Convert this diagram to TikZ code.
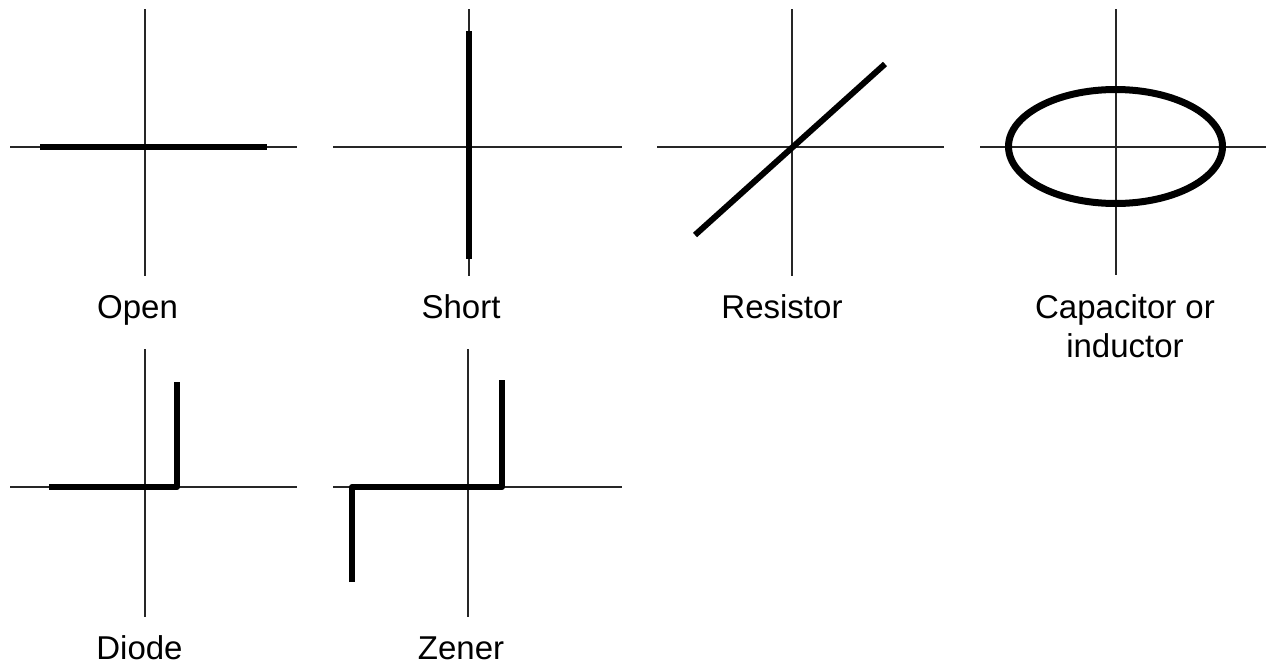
\documentclass[tikz,border=0pt]{standalone}
\usepackage{fontspec}
\setmainfont{Liberation Sans}
\begin{document}
\begin{tikzpicture}[x=1pt,y=-1pt,
  axis/.style={line width=2pt,draw=black!85},
  curve/.style={line width=6pt,draw=black,line join=round},
  lbl/.style={font=\fontsize{33}{39}\selectfont,anchor=base,inner sep=0pt,align=center}]
\useasboundingbox[fill=white] (0,0) rectangle (1266,664);
% Open
\draw[axis] (145,9) -- (145,276);
\draw[axis] (10,147) -- (297,147);
\draw[curve] (40,147) -- (267,147);
\node[lbl] (lopen) at (137.5,318) {Open};
% Short
\draw[axis] (469,9) -- (469,276);
\draw[axis] (333,147) -- (622,147);
\draw[curve] (469,31) -- (469,259);
\node[lbl] (lshort) at (461,318) {Short};
% Resistor
\draw[axis] (792,9) -- (792,276);
\draw[axis] (657,147) -- (944,147);
\draw[curve] (695,235) -- (885,64);
\node[lbl] (lres) at (782,318) {Resistor};
% Capacitor
\draw[axis] (1116,9) -- (1116,275);
\draw[axis] (980,147) -- (1266,147);
\draw[curve,line width=7pt] (1115.5,146.5) ellipse [x radius=107, y radius=57];
\node[lbl] (lcap) at (1125,357) {Capacitor or\\inductor};
% Diode
\draw[axis] (145,349) -- (145,617);
\draw[axis] (10,487) -- (297,487);
\draw[curve] (49,487) -- (177,487) -- (177,382);
\node[lbl] (ldiode) at (139.5,659) {Diode};
% Zener
\draw[axis] (468,349) -- (468,617);
\draw[axis] (333,487) -- (622,487);
\draw[curve] (352,582) -- (352,487) -- (502,487) -- (502,380);
\node[lbl] (lzener) at (461,659) {Zener};
\end{tikzpicture}
\end{document}
